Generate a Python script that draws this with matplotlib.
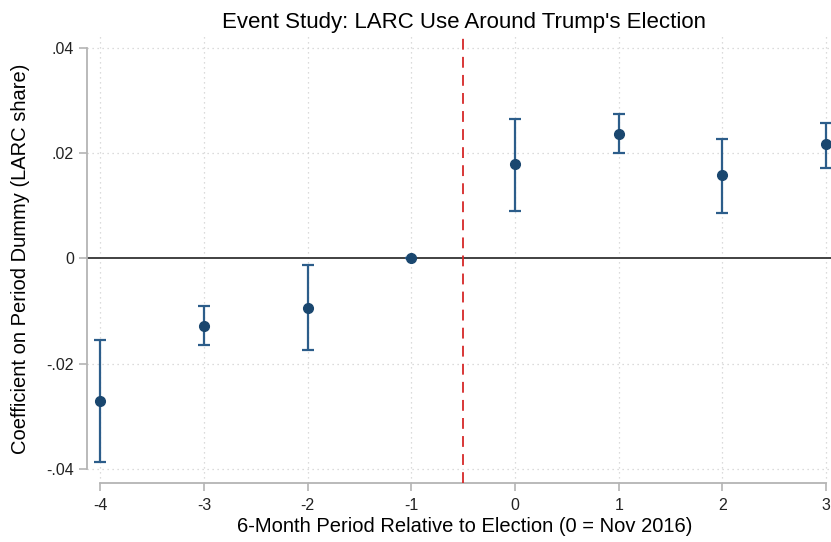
import matplotlib.pyplot as plt
import numpy as np

periods = [-4, -3, -2, -1, 0, 1, 2, 3]
coef = [-0.0272, -0.0129, -0.0095, 0.0, 0.0179, 0.0236, 0.0158, 0.0217]
ci_low = [-0.0387, -0.0165, -0.0175, 0.0, 0.0091, 0.0200, 0.0087, 0.0173]
ci_high = [-0.0156, -0.0091, -0.0013, 0.0, 0.0266, 0.0274, 0.0228, 0.0258]
yticks = [-0.04, -0.02, 0, 0.02, 0.04]
ytick_labels = ['-.04', '-.02', '0', '.02', '.04']

plt.rcParams['font.family'] = ['Liberation Sans', 'DejaVu Sans']
plt.rcParams['axes.unicode_minus'] = False

fig = plt.figure(figsize=(8.31, 5.42), dpi=100)
ax = fig.add_axes([0.1047, 0.1089, 0.8953, 0.8265])

navy = '#1a476f'
grey = '#b4b4b4'

coef = np.array(coef)
yerr = [coef - np.array(ci_low), np.array(ci_high) - coef]
ax.errorbar(periods, coef, yerr=yerr, fmt='o', color=navy, ecolor='#2c5d8a',
            markersize=7, elinewidth=1.6, capsize=4.5, capthick=1.6, zorder=4,
            clip_on=False)

ax.axhline(0, color='#333333', lw=1.3, zorder=2)
ax.axvline(-0.5, color='#d62728', lw=1.3, ls=(0, (6, 4)), zorder=3)

ax.set_xlim(-4.13, 3.048)
ax.set_ylim(-0.0427, 0.0425)
ax.set_xticks(periods)
ax.set_yticks(yticks)
ax.set_yticklabels(ytick_labels)

for y in yticks:
    if y != 0:
        ax.axhline(y, color='#d0d0d0', lw=0.9, ls=(0, (1, 3)), zorder=1)
for x in periods:
    ax.axvline(x, color='#d0d0d0', lw=0.9, ls=(0, (1, 3)), zorder=1)

for s in ['top', 'right']:
    ax.spines[s].set_visible(False)
ax.spines['left'].set_bounds(-0.04, 0.04)
ax.spines['bottom'].set_bounds(-4, 3)
ax.spines['left'].set_color(grey)
ax.spines['bottom'].set_color(grey)
ax.spines['left'].set_linewidth(1.3)
ax.spines['bottom'].set_linewidth(1.3)
ax.tick_params(axis='both', colors=grey, labelcolor='#222222', labelsize=11.5,
               length=6, width=1.2, direction='out')
ax.tick_params(axis='x', pad=5)

ax.set_title("Event Study: LARC Use Around Trump's Election", fontsize=16,
             x=0.507, pad=5)
ax.set_xlabel('6-Month Period Relative to Election (0 = Nov 2016)', fontsize=14.5)
ax.xaxis.set_label_coords(0.507, -0.076)
ax.set_ylabel('Coefficient on Period Dummy (LARC share)', fontsize=14.5)
ax.yaxis.set_label_coords(-0.077, 0.5)

fig.savefig('out.png', dpi=100)
